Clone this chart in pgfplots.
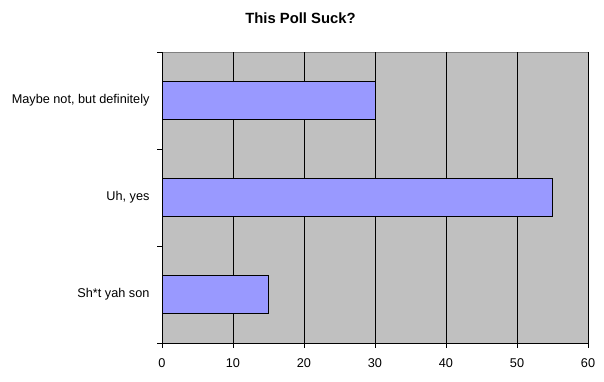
\documentclass[border=0pt]{standalone}
\usepackage{pgfplots}
\pgfplotsset{compat=1.18}
\usepackage{fontspec}
\setmainfont{Liberation Sans}
\definecolor{plotbg}{HTML}{C0C0C0}
\definecolor{barfill}{HTML}{9999FF}
\definecolor{frame}{HTML}{808080}
\begin{document}
\begin{tikzpicture}[x=1pt,y=1pt]
\path[use as bounding box] (0,0) rectangle (604,382);
\node[font=\fontsize{14.8}{17}\selectfont\bfseries] at (300.5,363.5) {This Poll Suck?};
\begin{axis}[
  at={(162pt,39pt)}, anchor=south west,
  scale only axis, width=426pt, height=291pt,
  xmin=0, xmax=60, ymin=0, ymax=3,
  xtick={0,10,...,60},
  ytick={0,1,2,3},
  yticklabels={Sh*t yah son, {Uh, yes}, {Maybe not, but definitely}},
  y tick label as interval,
  axis x line*=bottom, axis y line*=left,
  axis line style={-, black, line width=0.8pt},
  axis background/.style={fill=plotbg, draw=frame, line width=0.8pt},
  tick align=outside,
  major tick length=5pt,
  tick style={black, line width=0.8pt},
  xmajorgrids,
  major grid style={black, line width=0.8pt},
  tick label style={font=\fontsize{12.7}{15}\selectfont},
  /pgf/number format/assume math mode=true,
  xticklabel style={yshift=-7pt},
  yticklabel style={xshift=-4pt},
]
\addplot[xbar, fill=barfill, draw=black, line width=0.8pt, bar width=0.39]
  coordinates {(15,0.5) (55,1.5) (30,2.5)};
\end{axis}
\end{tikzpicture}
\end{document}
